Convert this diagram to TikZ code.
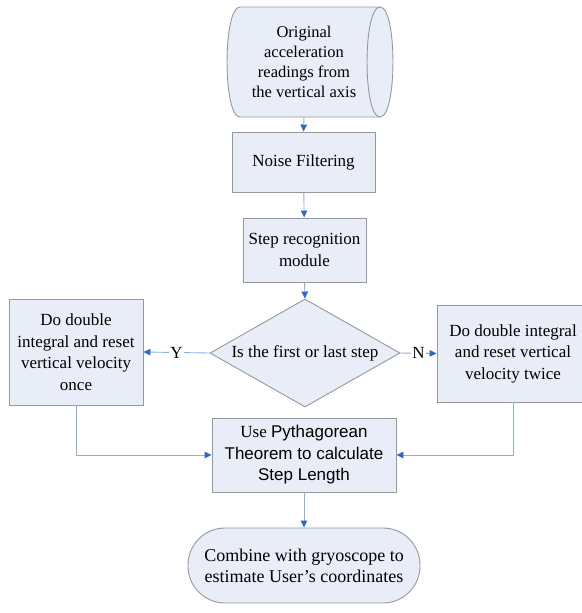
\documentclass[tikz,border=0pt]{standalone}
\usepackage{fontspec}
\setmainfont{Liberation Serif}
\newfontfamily\arialf{Liberation Sans}
\usetikzlibrary{shapes.geometric,arrows.meta}
\definecolor{boxfill}{RGB}{232,237,247}
\definecolor{boxline}{RGB}{150,152,160}
\definecolor{linkline}{RGB}{140,175,225}
\definecolor{tipblue}{RGB}{45,105,200}
\tikzset{
  box/.style={draw=boxline, fill=boxfill, line width=0.9pt, rectangle, align=center, inner sep=0pt,
    font=\fontsize{17}{21.5}\selectfont},
  link/.style={draw=linkline, line width=0.9pt, -{Triangle[length=7pt,width=6.5pt,color=tipblue]}},
  lbl/.style={fill=white, inner sep=1.5pt, font=\fontsize{17}{21.5}\selectfont},
}
\begin{document}
\begin{tikzpicture}[x=1pt,y=-1pt]
\useasboundingbox (0,0) rectangle (581,613);
% stored data shape
\path[draw=boxline, fill=boxfill, line width=0.9pt]
  (240,7) -- (380,7)
  .. controls (397.3,7) and (397.3,117) .. (380,117)
  -- (240,117)
  .. controls (222.7,117) and (222.7,7) .. (240,7) -- cycle;
\draw[boxline, line width=0.9pt] (380,7) .. controls (362.7,7) and (362.7,117) .. (380,117);
\node[align=center, inner sep=0pt, font=\fontsize{16.5}{20}\selectfont] (orig) at (304,62)
  {Original\\acceleration\\readings from\\the vertical axis};
\coordinate (origb) at (304,117);
\node[box, minimum width=143pt, minimum height=60pt] (noise) at (303.5,162) {Noise Filtering};
\node[box, minimum width=123pt, minimum height=64pt] (stepr) at (304.5,250) {Step recognition\\module};
\node[draw=boxline, fill=boxfill, line width=0.9pt, diamond, aspect=1.76, inner sep=0pt,
  minimum width=190pt, minimum height=108pt] (dec) at (305,353) {};
\node[align=center, inner sep=0pt, font=\fontsize{17}{21.5}\selectfont] (dectxt) at (305,353) {Is the first or last step};
\node[box, minimum width=134pt, minimum height=106pt] (leftb) at (76,352)
  {Do double\\integral and reset\\vertical velocity\\once};
\node[box, minimum width=152pt, minimum height=97pt] (rightb) at (513,353.5)
  {Do double integral\\and reset vertical\\velocity twice};
\node[box, minimum width=184pt, minimum height=74pt] (pyth) at (304,455)
  {Use {\arialf Pythagorean}\\{\arialf Theorem to calculate}\\{\arialf Step Length}};
\node[box, minimum width=232pt, minimum height=75pt, rounded corners=37pt,
  font=\fontsize{18}{21}\selectfont] (term) at (304,565.5)
  {Combine with gryoscope to\\estimate User's coordinates};
% connectors
\draw[link] (origb) -- (noise.north);
\draw[link] (noise) -- (stepr);
\draw[link] (stepr.south) -- (dec.north);
\draw[link] (dec.west) -- node[lbl] {Y} (leftb.east);
\draw[link] (dec.east) -- node[lbl] {N} (rightb.west);
\draw[link] (leftb.south) |- (pyth.west);
\draw[link] (rightb.south) |- (pyth.east);
\draw[link] (pyth.south) -- (term.north);
\end{tikzpicture}
\end{document}
